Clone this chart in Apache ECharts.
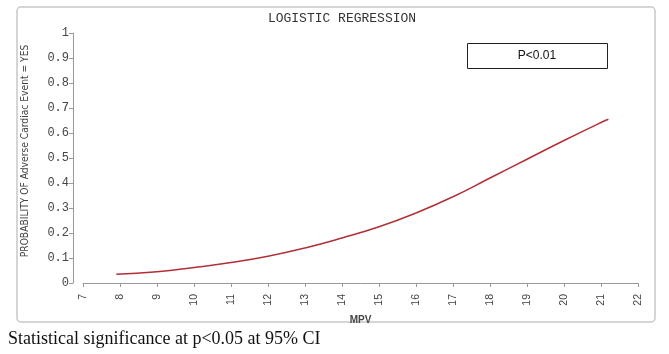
<!DOCTYPE html>
<html>
<head>
<meta charset="utf-8">
<script src="https://cdn.jsdelivr.net/npm/echarts@6/dist/echarts.min.js"></script>
<style>html,body{margin:0;padding:0;background:#fff;}#c{width:669px;height:354px;}</style>
</head>
<body>
<div id="c"></div>
<script>
const mpv = [7.9, 9, 10, 11, 12, 13, 14, 15, 16, 17, 18, 19, 20, 21, 21.2];
const probability = [0.035, 0.045, 0.062, 0.082, 0.107, 0.14, 0.18, 0.225, 0.28, 0.345, 0.42, 0.495, 0.57, 0.642, 0.655];
const xTicks = [7, 8, 9, 10, 11, 12, 13, 14, 15, 16, 17, 18, 19, 20, 21, 22];
const yTicks = ['0', '0.1', '0.2', '0.3', '0.4', '0.5', '0.6', '0.7', '0.8', '0.9', '1'];
const titleText = 'LOGISTIC REGRESSION';
const yName = 'PROBABILITY OF Adverse Cardiac Event = YES';
const xName = 'MPV';
const pText = 'P<0.01';
const caption = 'Statistical significance at p<0.05 at 95% CI';

const chart = echarts.init(document.getElementById('c'), null, {renderer: 'canvas'});
const axisGrey = '#9a9a9a';
chart.setOption({
  animation: false,
  backgroundColor: '#fff',
  title: {
    text: titleText, left: 337, top: 7, textAlign: 'center',
    textStyle: {fontFamily: 'Liberation Mono', fontSize: 13, fontWeight: 'normal', color: '#333'}
  },
  grid: {left: 83, right: 31, top: 33, bottom: 71},
  xAxis: {
    type: 'value', min: 7, max: 22, interval: 1, offset: 6,
    name: xName, nameLocation: 'middle', nameGap: 26,
    nameTextStyle: {fontFamily: 'Liberation Sans', fontSize: 10, fontWeight: 'bold', color: '#444'},
    axisLine: {show: true, lineStyle: {color: axisGrey}},
    axisTick: {show: true, length: 4, lineStyle: {color: axisGrey}},
    splitLine: {show: false},
    axisLabel: {
      rotate: 90, fontFamily: 'Liberation Sans', fontSize: 10.5, color: '#444', margin: 5,
      formatter: v => xTicks.includes(v) ? String(v) : ''
    }
  },
  yAxis: {
    type: 'value', min: 0, max: 1, interval: 0.1, offset: 10,
    axisLine: {show: true, lineStyle: {color: axisGrey}},
    axisTick: {show: true, length: 4, lineStyle: {color: axisGrey}},
    splitLine: {show: false},
    axisLabel: {
      fontFamily: 'Liberation Mono', fontSize: 12, color: '#444', margin: 4,
      formatter: (v, i) => yTicks[i] !== undefined ? yTicks[i] : ''
    }
  },
  series: [{
    type: 'line', smooth: true, showSymbol: false,
    data: mpv.map((x, i) => [x, probability[i]]),
    lineStyle: {color: '#b03038', width: 1.5}
  }],
  graphic: [
    {type: 'rect', shape: {x: 17, y: 7, width: 638, height: 315, r: 4},
     style: {fill: 'none', stroke: '#c8c8c8', lineWidth: 1.5}, z: -1},
    {type: 'text', x: 25, y: 151, rotation: Math.PI / 2,
     style: {text: yName, fontFamily: 'DejaVu Sans Condensed', fontSize: 10.2, fill: '#444', align: 'center', verticalAlign: 'middle'}},
    {type: 'rect', shape: {x: 467.5, y: 43.5, width: 140, height: 25},
     style: {fill: '#fff', stroke: '#222', lineWidth: 1}},
    {type: 'text', x: 537, y: 56,
     style: {text: pText, fontFamily: 'Liberation Sans', fontSize: 12, fill: '#111', align: 'center', verticalAlign: 'middle'}},
    {type: 'text', x: 8, y: 339,
     style: {text: caption, fontFamily: 'Liberation Serif', fontSize: 18, fill: '#111', align: 'left', verticalAlign: 'middle'}}
  ]
});
</script>
</body>
</html>
